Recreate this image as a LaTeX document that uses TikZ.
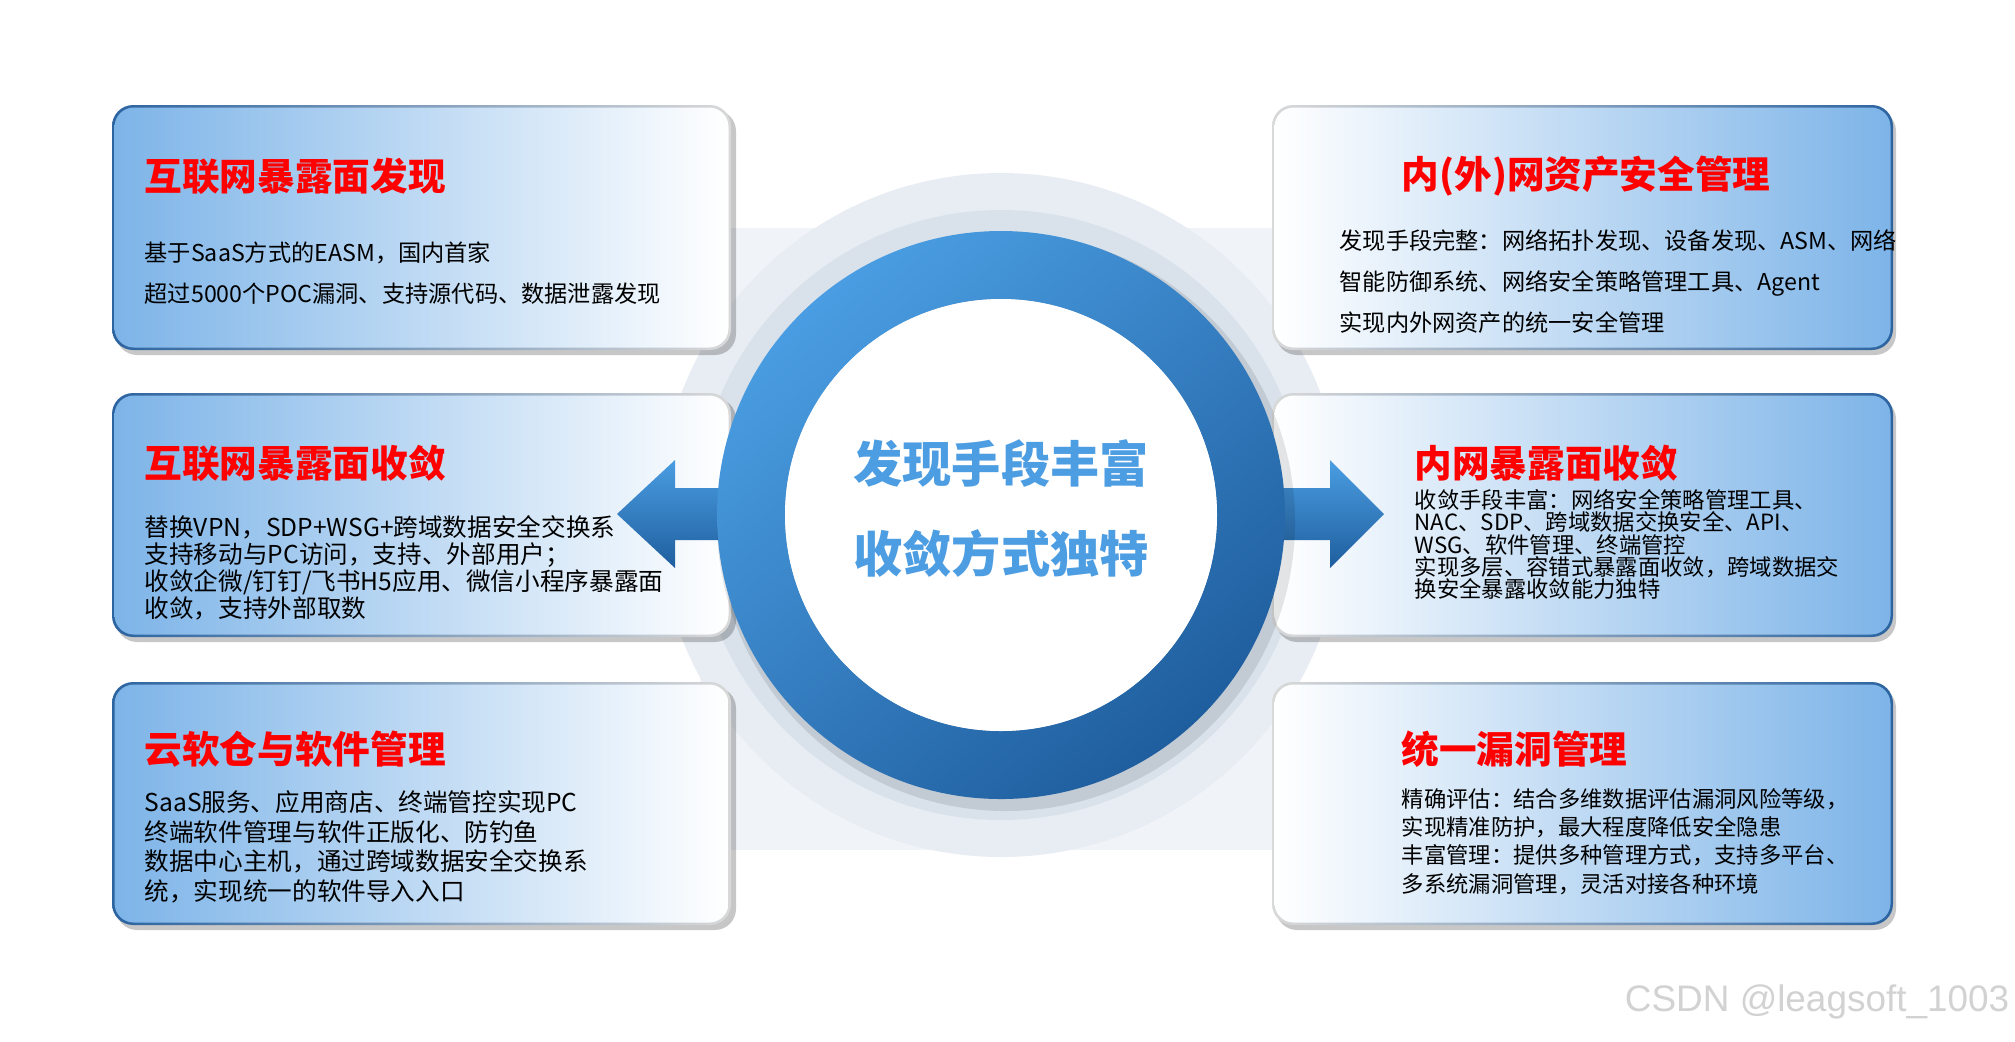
\documentclass[tikz,border=0pt]{standalone}
\usepackage{fontspec}
\setmainfont{Noto Sans CJK SC}
\newfontfamily\wmfont{Liberation Sans}
\usetikzlibrary{positioning}
\definecolor{boxblue}{HTML}{7DB4E8}\definecolor{boxedge}{HTML}{2C64A0}
\definecolor{ringlight}{HTML}{4A9DE2}\definecolor{ringdark}{HTML}{1F5E9E}
\definecolor{haloout}{HTML}{E8EDF3}\definecolor{haloin}{HTML}{D6E0EA}
\definecolor{band}{HTML}{F0F3F7}\definecolor{midtxt}{HTML}{4C9DE2}
\tikzset{ttl/.style={anchor=west,inner sep=0pt,text=red,font=\fontsize{10.7}{12}\selectfont\bfseries},
bdy/.style={anchor=north west,align=left,inner sep=0pt},
shd/.style={fill=black,opacity=.22,rounded corners=6pt},
mid/.style={text=midtxt,font=\fontsize{14}{16}\selectfont\bfseries,inner sep=0pt},
arw/.style={draw=none,shading angle=#1,top color=ringlight,bottom color=ringdark}}

\begin{document}
\begin{tikzpicture}[x=0.01cm,y=-0.01cm]
\useasboundingbox (0,0) rectangle (2015,1041);
\fill[white] (0,0) rectangle (2015,1041);
% background band and halo
\fill[band] (700,228) rectangle (1300,850);
\fill[haloout] (1001,515) circle (342);
\fill[haloin,opacity=.8] (1001,515) circle (305);
% boxes
\foreach\t/\b in{105/350,393/637,682/925}{
\fill[shd] (116,\t+5) rectangle (736,\b+5);
\shade[rounded corners=6pt,left color=boxedge,right color=gray!30] (112,\t) rectangle (731,\b);
\shade[rounded corners=5.5pt,left color=boxblue,right color=white] (114.5,\t+2.5) rectangle (728.5,\b-2.5);
\fill[shd] (1276,\t+5) rectangle (1896,\b+5);
\shade[rounded corners=6pt,left color=gray!30,right color=boxedge] (1272,\t) rectangle (1893,\b);
\shade[rounded corners=5.5pt,left color=white,right color=boxblue] (1274.5,\t+2.5) rectangle (1890.5,\b-2.5);}
% left texts
\node[ttl] (t1) at (144,176) {互联网暴露面发现};
\node[bdy,font=\fontsize{6.6}{11.7}\selectfont] (b1) at (144,241) {基于SaaS方式的EASM，国内首家\\超过5000个POC漏洞、支持源代码、数据泄露发现};
\node[ttl] (t2) at (144,463) {互联网暴露面收敛};
\node[bdy,font=\fontsize{7}{7.7}\selectfont] (b2) at (144,515) {替换VPN，SDP+WSG+跨域数据安全交换系\\支持移动与PC访问，支持、外部用户；\\收敛企微/钉钉/飞书H5应用、微信小程序暴露面\\收敛，支持外部取数};
\node[ttl] (t3) at (144,749) {云软仓与软件管理};
\node[bdy,font=\fontsize{7}{8.4}\selectfont] (b3) at (144,790) {SaaS服务、应用商店、终端管控实现PC\\终端软件管理与软件正版化、防钓鱼\\数据中心主机，通过跨域数据安全交换系\\统，实现统一的软件导入入口};
% right texts
\node[ttl] (t4) at (1401,176) {内(外)网资产安全管理};
\node[bdy,font=\fontsize{6.6}{11.7}\selectfont] (b4) at (1339,229) {发现手段完整：网络拓扑发现、设备发现、ASM、网络\\智能防御系统、网络安全策略管理工具、Agent\\实现内外网资产的统一安全管理};
\node[ttl] (t5) at (1414,463) {内网暴露面收敛};
\node[bdy,font=\fontsize{6.35}{6.3}\selectfont] (b5) at (1414,489) {收敛手段丰富：网络安全策略管理工具、\\NAC、SDP、跨域数据交换安全、API、\\WSG、软件管理、终端管控\\实现多层、容错式暴露面收敛，跨域数据交\\换安全暴露收敛能力独特};
\node[ttl] (t6) at (1401,749) {统一漏洞管理};
\node[bdy,font=\fontsize{6.35}{8}\selectfont] (b6) at (1401,788) {精确评估：结合多维数据评估漏洞风险等级，\\实现精准防护，最大程度降低安全隐患\\丰富管理：提供多种管理方式，支持多平台、\\多系统漏洞管理，灵活对接各种环境};
% arrows
\shade[arw=-45] (740,488) -- (675,488) -- (675,460) -- (617,514) -- (675,568) -- (675,540) -- (740,540) -- cycle;
\shade[arw=45] (1262,488) -- (1330,488) -- (1330,460) -- (1384,514) -- (1330,568) -- (1330,540) -- (1262,540) -- cycle;
% ring
\fill[black,opacity=.1] (1006,522) circle (289);
\shade[even odd rule,top color=ringlight,bottom color=ringdark,shading angle=40] (1001,515) circle (284) (1001,515) circle (216);
\fill[white] (1001,515) circle (216);
\node[mid] (m1) at (1001,463) {发现手段丰富};
\node[mid] (m2) at (1001,553) {收敛方式独特};
\node[anchor=east,inner sep=0pt,text=gray!35,font=\wmfont\fontsize{10.5}{12}\selectfont] (wm) at (2010,1002) {CSDN @leagsoft\_1003};
\end{tikzpicture}
\end{document}
